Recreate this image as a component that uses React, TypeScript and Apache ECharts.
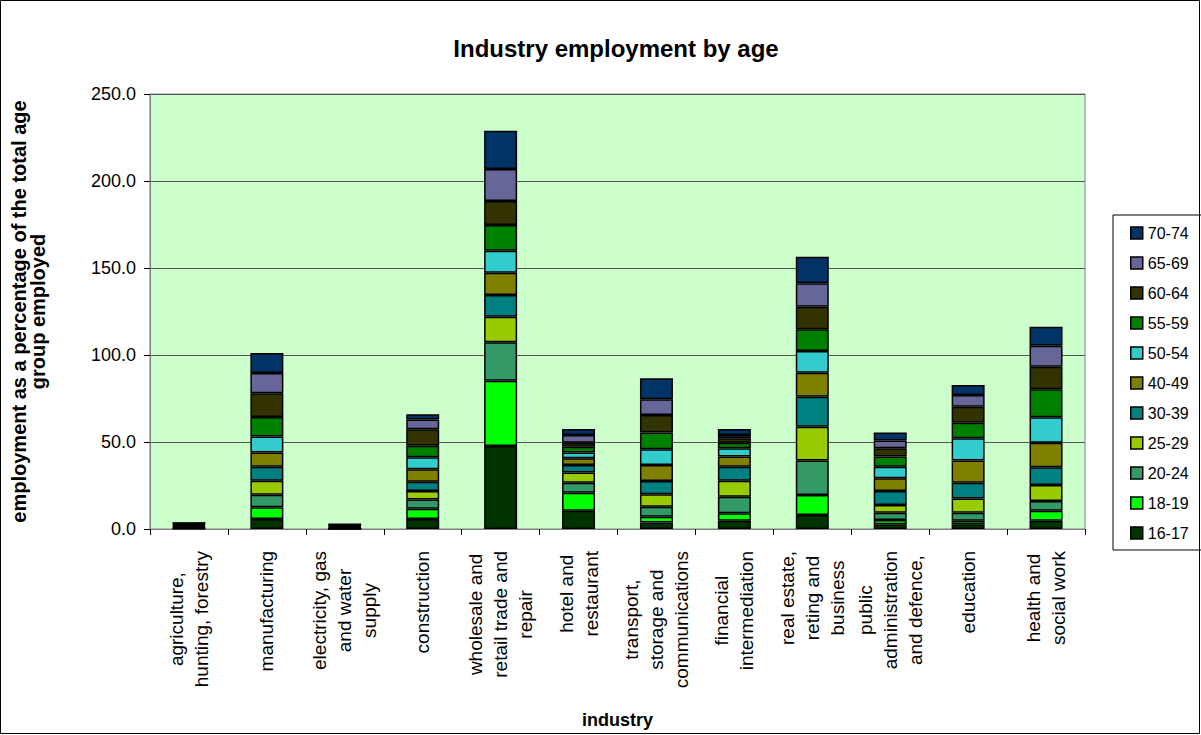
import React, { useEffect, useRef } from "react";
import * as echarts from "echarts";

const categories = [
  "agriculture,\nhunting, forestry",
  "manufacturing",
  "electricity, gas\nand water\nsupply",
  "construction",
  "wholesale and\nretail trade and\nrepair",
  "hotel and\nrestaurant",
  "transport,\nstorage and\ncommunications",
  "financial\nintermediation",
  "real estate,\nreting and\nbusiness",
  "public\nadministration\nand defence,",
  "education",
  "health and\nsocial work",
];

const ageGroups = ["16-17", "18-19", "20-24", "25-29", "30-39", "40-49", "50-54", "55-59", "60-64", "65-69", "70-74"];

const age16_17 = [0.2, 5.7, 0.1, 5.7, 47.7, 10.5, 3.8, 4.8, 8.0, 2.7, 2.7, 4.8];
const age18_19 = [0.2, 6.8, 0.1, 6.0, 37.5, 10.4, 3.3, 4.2, 11.5, 2.5, 2.1, 5.7];
const age20_24 = [0.3, 7.2, 0.2, 5.3, 22.1, 5.7, 5.7, 9.6, 19.8, 4.2, 4.6, 5.6];
const age25_29 = [0.3, 8.1, 0.2, 4.8, 14.7, 5.8, 7.1, 9.2, 19.5, 4.4, 8.2, 9.2];
const age30_39 = [0.4, 8.0, 0.3, 5.4, 12.5, 4.4, 7.7, 8.0, 17.2, 8.0, 9.0, 10.2];
const age40_49 = [0.5, 8.1, 0.4, 7.1, 12.8, 3.8, 9.2, 5.8, 13.8, 7.3, 12.7, 14.1];
const age50_54 = [0.4, 9.2, 0.4, 6.9, 12.6, 3.3, 9.0, 4.8, 12.5, 6.7, 12.8, 14.6];
const age55_59 = [0.4, 11.3, 0.4, 6.7, 14.8, 3.4, 9.6, 3.2, 12.5, 5.8, 9.0, 16.1];
const age60_64 = [0.4, 13.6, 0.3, 9.4, 13.8, 2.3, 10.1, 2.5, 13.0, 4.8, 9.2, 13.0];
const age65_69 = [0.3, 11.6, 0.2, 5.7, 18.4, 4.4, 9.0, 1.9, 13.4, 4.4, 6.7, 12.0];
const age70_74 = [0.2, 11.5, 0.2, 2.9, 22.0, 3.5, 12.1, 3.5, 15.3, 4.6, 5.8, 11.0];

const seriesValues = [age16_17, age18_19, age20_24, age25_29, age30_39, age40_49, age50_54, age55_59, age60_64, age65_69, age70_74];

const colors = ["#003300", "#00FF00", "#339966", "#99CC00", "#008080", "#808000", "#33CCCC", "#008000", "#333300", "#666699", "#003366"];

const yTicks = { min: 0, max: 250, interval: 50 };

const FONT = "'Liberation Sans', Arial, sans-serif";

export default function App() {
  const ref = useRef<HTMLDivElement>(null);
  useEffect(() => {
    if (!ref.current) return;
    const chart = echarts.init(ref.current, undefined, { renderer: "svg" });
    chart.setOption({
      animation: false,
      backgroundColor: "#ffffff",
      textStyle: { fontFamily: FONT },
      title: {
        text: "Industry employment by age",
        left: 611,
        textAlign: "center",
        top: 31,
        textStyle: { fontFamily: FONT, fontSize: 24, fontWeight: "bold", color: "#000" },
      },
      graphic: [
        {
          type: "rect",
          shape: { x: 0.5, y: 0.5, width: 1199, height: 733 },
          style: { fill: "none", stroke: "#000", lineWidth: 1 },
          silent: true,
          z: 100,
        },
      ],
      legend: {
        orient: "vertical",
        left: 1113,
        top: 215,
        data: ageGroups.slice().reverse(),
        icon: "rect",
        itemWidth: 12,
        itemHeight: 12,
        itemGap: 14,
        padding: [10, 14, 9, 17],
        backgroundColor: "#fff",
        borderColor: "#000",
        borderWidth: 1,
        textStyle: { fontFamily: FONT, fontSize: 16, color: "#000" },
        itemStyle: { borderColor: "#000", borderWidth: 1.5 },
      },
      grid: {
        left: 150,
        right: 116,
        top: 94,
        bottom: 206,
        show: true,
        outerBoundsMode: "none",
        containLabel: false,
        backgroundColor: "#CCFFCC",
        borderColor: "#808080",
        borderWidth: 1,
      },
      xAxis: {
        type: "category",
        data: categories,
        name: "industry",
        nameLocation: "middle",
        nameGap: 182,
        nameTextStyle: { fontFamily: FONT, fontSize: 18, fontWeight: "bold", color: "#000" },
        axisLine: { lineStyle: { color: "#808080", width: 1 } },
        axisTick: { show: true, length: 6, lineStyle: { color: "#000" } },
        axisLabel: {
          interval: 0,
          rotate: 90,
          margin: 22,
          color: "#000",
          formatter: (v: string) => v.split("\n").map((l) => `{c|${l}}`).join("\n"),
          rich: {
            c: { align: "center", fontFamily: FONT, fontSize: 19, lineHeight: 25, color: "#000" },
          },
        },
      },
      yAxis: {
        type: "value",
        min: yTicks.min,
        max: yTicks.max,
        interval: yTicks.interval,
        name: "employment as a percentage of the total age\ngroup employed",
        nameLocation: "middle",
        nameRotate: 90,
        nameGap: 103,
        nameTextStyle: { fontFamily: FONT, fontSize: 20, fontWeight: "bold", color: "#000", lineHeight: 19 },
        axisLine: { show: true, lineStyle: { color: "#808080", width: 1 } },
        axisTick: { show: true, length: 6, lineStyle: { color: "#000" } },
        axisLabel: {
          margin: 14,
          color: "#000",
          fontFamily: FONT,
          fontSize: 18,
          formatter: (v: number) => v.toFixed(1),
        },
        splitLine: { show: true, lineStyle: { color: "#555", width: 1 } },
      },
      series: ageGroups.map((g, i) => ({
        name: g,
        type: "bar",
        stack: "total",
        barWidth: 33,
        data: seriesValues[i],
        itemStyle: { color: colors[i], borderColor: "#000", borderWidth: 1.5 },
      })),
    });
    return () => chart.dispose();
  }, []);
  return <div ref={ref} style={{ position: "absolute", left: 0, top: 0, width: 1201, height: 735 }} />;
}
